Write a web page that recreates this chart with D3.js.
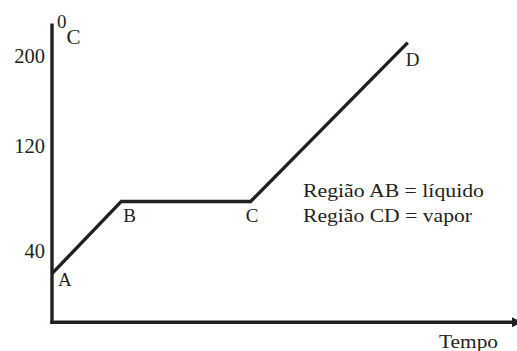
<!DOCTYPE html>
<html>
<head>
  <meta charset="UTF-8">
  <title>Temperatura x Tempo</title>
  <script src="https://d3js.org/d3.v7.min.js"></script>
  <style>
    body { margin: 0; background: #fff; }
    .curve { fill: none; stroke: #231f20; stroke-width: 3.4px; stroke-linejoin: miter; }
    .axis-line { stroke: #231f20; stroke-width: 3.4px; }
  </style>
</head>
<body>
  <svg width="517" height="351"></svg>
  <script>
    // dados
    const pontos = ["A", "B", "C", "D"];
    const tempo = [0, 1.5, 4.3, 7.7];
    const temperatura = [22, 77, 77, 211];
    const ticksY = [40, 120, 200];
    const legenda = ["Região AB = líquido", "Região CD = vapor"];
    const largLegenda = [181, 169];

    const svg = d3.select("svg");
    const cor = "#231f20";
    const fonte = '"Liberation Serif"';

    // eixo vertical não é linear no desenho original, por isso escala por partes
    const y = d3.scaleLinear().domain([40, 120, 200]).range([250, 145, 55]);
    const x = d3.scaleLinear().domain([0, 10]).range([52, 514]);

    const yTopo = 228, yBase = -15;

    // eixo Y
    svg.append("line").attr("class", "axis-line")
      .attr("x1", x(0)).attr("x2", x(0))
      .attr("y1", y(yTopo)).attr("y2", y(yBase) + 1.7);

    svg.append("g")
      .attr("transform", `translate(${x(0)},0)`)
      .call(d3.axisLeft(y).tickValues(ticksY).tickSize(0).tickPadding(7))
      .call(g => g.select(".domain").remove())
      .call(g => g.attr("font-family", null).attr("font-size", null))
      .selectAll("text")
      .attr("font-size", 20.5)
      .attr("dy", "0.38em")
      .style("font-family", fonte)
      .attr("fill", cor);

    // eixo X com seta
    svg.append("line").attr("class", "axis-line")
      .attr("x1", x(0) - 1.7).attr("x2", x(10))
      .attr("y1", y(yBase)).attr("y2", y(yBase));

    svg.append("path")
      .attr("d", d3.line()([[x(10) - 2, y(yBase) - 5], [x(10) + 8, y(yBase)], [x(10) - 2, y(yBase) + 5]]))
      .attr("fill", cor);

    // unidade
    const unid = svg.append("text")
      .attr("x", x(0) + 5).attr("y", 44)
      .attr("font-size", 21)
      .style("font-family", fonte)
      .attr("fill", cor);
    unid.append("tspan").text("0").attr("dy", -16).attr("font-size", 19);
    unid.append("tspan").text("C").attr("dy", 16);

    svg.append("text")
      .attr("x", 439).attr("y", 348)
      .attr("font-size", 19.5)
      .attr("textLength", 59)
      .attr("lengthAdjust", "spacingAndGlyphs")
      .style("font-family", fonte)
      .attr("fill", cor)
      .text("Tempo");

    // curva de aquecimento
    const dados = pontos.map((p, i) => ({ nome: p, t: tempo[i], temp: temperatura[i] }));

    svg.append("path")
      .datum(dados)
      .attr("class", "curve")
      .attr("d", d3.line().x(d => x(d.t)).y(d => y(d.temp)));

    const desloc = { A: [6, 12], B: [2, 21], C: [-5, 21], D: [-2, 23] };
    svg.selectAll("text.ponto")
      .data(dados)
      .join("text")
      .attr("class", "ponto")
      .attr("x", d => x(d.t) + desloc[d.nome][0])
      .attr("y", d => y(d.temp) + desloc[d.nome][1])
      .attr("font-size", 19)
      .style("font-family", fonte)
      .attr("fill", cor)
      .text(d => d.nome);

    svg.selectAll("text.legenda")
      .data(legenda)
      .join("text")
      .attr("class", "legenda")
      .attr("x", 303)
      .attr("y", (d, i) => 197 + i * 25)
      .attr("font-size", 18.5)
      .attr("textLength", (d, i) => largLegenda[i])
      .attr("lengthAdjust", "spacingAndGlyphs")
      .style("font-family", fonte)
      .attr("fill", cor)
      .text(d => d);
  </script>
</body>
</html>
